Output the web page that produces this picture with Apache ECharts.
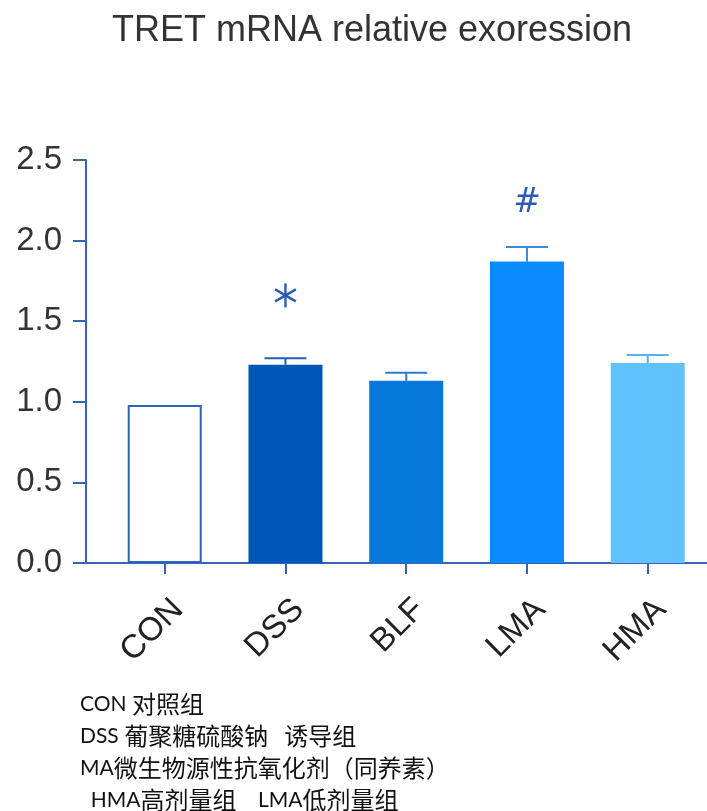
<!DOCTYPE html>
<html>
<head>
<meta charset="utf-8">
<script src="https://cdn.jsdelivr.net/npm/echarts@6/dist/echarts.min.js"></script>
<style>
  html, body { margin: 0; padding: 0; background: #fff; }
  #chart { width: 707px; height: 811px; }
</style>
</head>
<body>
<div id="chart"></div>
<script>
// Groups and measured expression (mean ± SEM)
const categories = ['CON', 'DSS', 'BLF', 'LMA', 'HMA'];
const meanValues = [0.98, 1.23, 1.13, 1.87, 1.24];
const semValues = [0, 0.04, 0.05, 0.09, 0.05];
// Significance marks and the level they sit at
const sigMarks = ['', '*', '', '#', ''];
const sigLevels = [null, 1.66, null, 2.23, null];
const yTicks = [0, 0.5, 1.0, 1.5, 2.0, 2.5];
const footnotes = [
  'CON 对照组',
  'DSS 葡聚糖硫酸钠   诱导组',
  'MA微生物源性抗氧化剂（同养素）',
  '  HMA高剂量组    LMA低剂量组'
];

const barColors = ['#ffffff', '#0057b8', '#0878da', '#0a8bff', '#60c2fd'];
const errColors = ['#2d63be', '#1f5fb8', '#2a7ad2', '#3a8ad8', '#5eb0ec'];
const axisColor = '#3565ba';
const markColor = '#2a5cb6';
const sansFont = '"Liberation Sans", Arial, sans-serif';

// Split a footnote line into Latin and CJK runs so each gets its own font
function richLine(line) {
  return line.split(/([\u3000-\u9fff\uff00-\uffef]+)/)
    .filter(s => s.length)
    .map(s => /[\u3000-\u9fff\uff00-\uffef]/.test(s) ? '{c|' + s + '}' : '{l|' + s + '}')
    .join('');
}

const chart = echarts.init(document.getElementById('chart'), null, { renderer: 'canvas' });

const barData = meanValues.map((v, i) => ({
  value: [i, v],
  itemStyle: i === 0
    ? { color: '#ffffff', borderColor: '#2d63be', borderWidth: 2 }
    : { color: barColors[i] }
}));

const errData = meanValues.map((v, i) => [i, v, v + semValues[i]]);
const sigData = sigLevels.map((v, i) => [i, v]).filter(d => d[1] !== null);
const categoryIdx = categories.map((c, i) => i);

const option = {
  animation: false,
  backgroundColor: '#ffffff',
  title: {
    text: 'TRET mRNA relative exoression',
    left: 367,
    top: 8,
    textAlign: 'center',
    textStyle: {
      fontFamily: sansFont,
      fontWeight: 'normal',
      fontSize: 36,
      color: '#333333'
    }
  },
  grid: { left: 86, right: 0, top: 160, bottom: 248 },
  xAxis: {
    type: 'value',
    min: -0.652,
    max: 4.491,
    splitLine: { show: false },
    axisLine: { show: true, onZero: false, lineStyle: { color: axisColor, width: 2 } },
    axisTick: {
      show: true,
      customValues: categoryIdx,
      length: 11,
      lineStyle: { color: axisColor, width: 2 }
    },
    axisLabel: {
      customValues: categoryIdx,
      formatter: v => categories[Math.round(v)] || '',
      rotate: 45,
      margin: 28,
      align: 'right',
      verticalAlign: 'top',
      lineHeight: 38,
      fontFamily: sansFont,
      fontSize: 33,
      color: '#222222'
    }
  },
  yAxis: {
    type: 'value',
    min: 0,
    max: 2.5,
    interval: 0.5,
    splitLine: { show: false },
    axisLine: { show: true, onZero: false, lineStyle: { color: axisColor, width: 2 } },
    axisTick: { show: true, length: 13, lineStyle: { color: axisColor, width: 2 } },
    axisLabel: {
      margin: 24,
      formatter: v => v.toFixed(1),
      fontFamily: sansFont,
      fontSize: 33,
      color: '#333333'
    }
  },
  series: [
    {
      type: 'bar',
      barWidth: 74,
      data: barData,
      z: 2
    },
    {
      type: 'custom',
      z: 3,
      data: errData,
      renderItem: (params, api) => {
        const i = api.value(0);
        if (semValues[i] <= 0) return null;
        const top = api.coord([i, api.value(1)]);
        const cap = api.coord([i, api.value(2)]);
        const half = 21;
        const style = { stroke: errColors[i], lineWidth: 2 };
        return {
          type: 'group',
          children: [
            { type: 'line', shape: { x1: top[0], y1: top[1], x2: cap[0], y2: cap[1] }, style },
            { type: 'line', shape: { x1: cap[0] - half, y1: cap[1], x2: cap[0] + half, y2: cap[1] }, style }
          ]
        };
      }
    },
    {
      type: 'custom',
      z: 4,
      data: sigData,
      renderItem: (params, api) => {
        const i = api.value(0);
        const c = api.coord([i, api.value(1)]);
        const mark = sigMarks[i];
        if (mark === '*') {
          const r = 12;
          const children = [90, 30, 150].map(a => {
            const rad = a * Math.PI / 180;
            const dx = Math.cos(rad) * r, dy = Math.sin(rad) * r;
            return {
              type: 'line',
              shape: { x1: c[0] - dx, y1: c[1] - dy, x2: c[0] + dx, y2: c[1] + dy },
              style: { stroke: markColor, lineWidth: 2.4 }
            };
          });
          return { type: 'group', children };
        }
        return {
          type: 'text',
          x: c[0],
          y: c[1],
          style: {
            text: mark,
            align: 'center',
            verticalAlign: 'middle',
            fill: markColor,
            fontSize: 33,
            fontStyle: 'oblique',
            fontFamily: '"DejaVu Sans", sans-serif'
          }
        };
      }
    }
  ],
  graphic: footnotes.map((t, k) => ({
    type: 'text',
    left: 80,
    top: 692 + k * 32,
    style: {
      text: richLine(t),
      rich: {
        l: { fontSize: 21, lineHeight: 32, fontFamily: 'Lato, sans-serif', fill: '#111111' },
        c: { fontSize: 24, lineHeight: 32, fontFamily: '"Noto Sans CJK SC", sans-serif', fill: '#111111' }
      }
    }
  }))
};

chart.setOption(option);
</script>
</body>
</html>
